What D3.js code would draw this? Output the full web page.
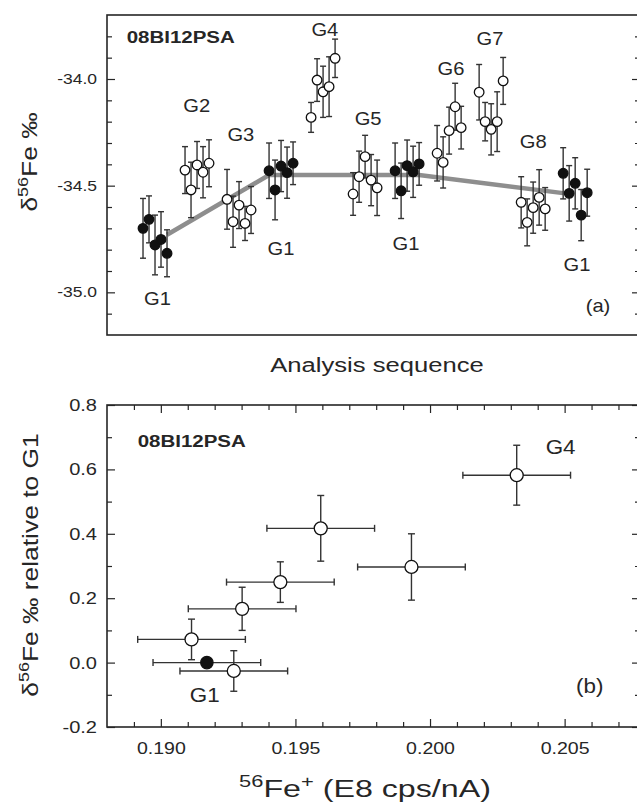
<!DOCTYPE html>
<html>
<head>
<meta charset="utf-8">
<script src="https://cdn.jsdelivr.net/npm/d3@7"></script>
<style>
    body { margin: 0; background: #fff; }
    svg { display: block; }
</style>
</head>
<body>
<div id="chart"></div>
<script>
// ---- panel (a): delta56Fe along the analysis sequence ----
const groupNames = ['G1', 'G2', 'G3', 'G1', 'G4', 'G5', 'G1', 'G6', 'G7', 'G8', 'G1'];
const groupFilled = [true, false, false, true, false, false, true, false, false, false, true];
const groupSeq = [
    [1, 2, 3, 4, 5], [8, 9, 10, 11, 12], [15, 16, 17, 18, 19], [22, 23, 24, 25, 26],
    [29, 30, 31, 32, 33], [36, 37, 38, 39, 40], [43, 44, 45, 46, 47], [50, 51, 52, 53, 54],
    [57, 58, 59, 60, 61], [64, 65, 66, 67, 68], [71, 72, 73, 74, 75]
];
const groupValues = [
    [-34.700, -34.658, -34.778, -34.752, -34.817],
    [-34.427, -34.520, -34.403, -34.437, -34.395],
    [-34.564, -34.669, -34.591, -34.677, -34.614],
    [-34.430, -34.520, -34.408, -34.439, -34.395],
    [-34.180, -34.005, -34.060, -34.036, -33.903],
    [-34.539, -34.458, -34.364, -34.474, -34.510],
    [-34.430, -34.524, -34.406, -34.435, -34.398],
    [-34.348, -34.391, -34.242, -34.130, -34.228],
    [-34.062, -34.200, -34.236, -34.200, -34.009],
    [-34.578, -34.672, -34.603, -34.555, -34.609],
    [-34.442, -34.536, -34.489, -34.638, -34.533]
];
const groupErrors = [
    [0.14, 0.11, 0.14, 0.13, 0.11],
    [0.11, 0.13, 0.11, 0.12, 0.11],
    [0.14, 0.12, 0.11, 0.08, 0.11],
    [0.13, 0.14, 0.12, 0.12, 0.10],
    [0.07, 0.10, 0.12, 0.14, 0.09],
    [0.10, 0.12, 0.10, 0.12, 0.13],
    [0.13, 0.13, 0.12, 0.12, 0.10],
    [0.13, 0.12, 0.11, 0.11, 0.10],
    [0.13, 0.09, 0.12, 0.14, 0.11],
    [0.12, 0.11, 0.12, 0.13, 0.10],
    [0.12, 0.13, 0.12, 0.12, 0.11]
];
// G1 block means joined by the grey line
const g1LineSeq = [5, 22, 47, 71];
const g1LineValues = [-34.73, -34.45, -34.45, -34.535];

const seqDomain = [-5, 83.8];
const deltaDomainA = [-35.2, -33.7];
const majorTicksA = [-35.0, -34.5, -34.0];
const minorTicksA = [-35.1, -34.9, -34.8, -34.7, -34.6, -34.4, -34.3, -34.2, -34.1, -33.9, -33.8];

const labelTextA = ['G1', 'G2', 'G3', 'G1', 'G4', 'G5', 'G1', 'G6', 'G7', 'G8', 'G1', '(a)'];
const labelSeqA = [3.4, 9.95, 17.3, 24, 31.3, 38.5, 44.8, 52.3, 58.8, 66, 73.3, 76.8];
const labelValueA = [-35.06, -34.155, -34.29, -34.825, -33.80, -34.215, -34.80, -33.98, -33.84, -34.325, -34.90, -35.09];

// ---- panel (b): delta56Fe relative to G1 vs 56Fe+ intensity ----
const fluxX = [0.19114, 0.19271, 0.19302, 0.19444, 0.19594, 0.19931, 0.20322];
const fluxDelta = [0.072, -0.026, 0.167, 0.250, 0.417, 0.297, 0.582];
const fluxXErr = [0.0020, 0.0020, 0.0020, 0.0020, 0.0020, 0.0020, 0.0020];
const fluxDeltaErr = [0.063, 0.063, 0.067, 0.063, 0.102, 0.103, 0.093];
const g1FluxX = [0.19171];
const g1FluxDelta = [0.0];
const g1FluxXErr = [0.0020];

const fluxDomain = [0.188, 0.2078];
const deltaDomainB = [-0.2, 0.8];
const majorTicksBX = [0.190, 0.195, 0.200, 0.205];
const minorTicksBX = [0.189, 0.191, 0.192, 0.193, 0.194, 0.196, 0.197, 0.198, 0.199, 0.201, 0.202, 0.203, 0.204, 0.206, 0.207];
const majorTicksBY = [-0.2, 0.0, 0.2, 0.4, 0.6, 0.8];
const minorTicksBY = [-0.1, 0.1, 0.3, 0.5, 0.7];

const labelTextB = ['G4', 'G1', '(b)'];
const labelXB = [0.20485, 0.19163, 0.20593];
const labelYB = [0.648, -0.123, -0.095];

const sampleName = '08BI12PSA';

// ---- drawing ----
const FONT = '"Liberation Sans", Arial, Helvetica, sans-serif';
const INK = '#262626';
const W = 637, H = 803;
const LEFT = 107, RIGHT = 640;

const svg = d3.select('#chart').append('svg')
    .attr('width', W)
    .attr('height', H)
    .style('background', '#fff');

// the figure lettering is wide, so every label is stretched sideways
function stretchLabels(sel, sx) {
    sel.each(function() {
        const t = d3.select(this);
        const x = +t.attr('x') || 0;
        const y = +t.attr('y') || 0;
        t.attr('x', null).attr('y', null)
            .attr('transform', `translate(${x},${y}) scale(${sx},1)`);
    });
}

function addLabel(parent, x, y, parts, o) {
    const t = parent.append('text')
        .attr('transform', `translate(${x},${y})` + (o.rotate ? ` rotate(${o.rotate})` : '') + ` scale(${o.sx || 1},1)`)
        .attr('text-anchor', o.anchor || 'middle')
        .attr('font-family', FONT)
        .attr('font-size', o.size)
        .attr('font-weight', o.bold ? 'bold' : 'normal')
        .attr('fill', INK);
    let raised = false;
    (typeof parts === 'string' ? [parts] : parts).forEach(p => {
        const sup = typeof p === 'object';
        const s = t.append('tspan').text(sup ? p.sup : p);
        if (sup) {
            s.attr('font-size', o.size * 0.68).attr('dy', raised ? 0 : -o.size * 0.42);
        } else if (raised) {
            s.attr('dy', o.size * 0.42);
        }
        raised = sup;
    });
    return t;
}

function drawAxis(g, axis, tx, ty, fontSize, sx) {
    const a = g.append('g')
        .attr('transform', `translate(${tx},${ty})`)
        .call(axis)
        .attr('font-family', FONT)
        .attr('font-size', fontSize);
    a.select('.domain').remove();
    a.selectAll('line').attr('stroke', INK).attr('stroke-width', 1.2);
    a.selectAll('text').attr('fill', INK);
    stretchLabels(a.selectAll('text'), sx);
    return a;
}

function errorBarsY(g, xs, ys, errs, x, y, cap) {
    const d = xs.map((v, i) => ({ x: v, y: ys[i], e: errs[i] })).filter(p => p.e > 0);
    const bars = g.append('g').attr('stroke', '#333').attr('stroke-width', 1.4).attr('fill', 'none');
    bars.selectAll('.v').data(d).enter().append('line')
        .attr('x1', p => x(p.x)).attr('x2', p => x(p.x))
        .attr('y1', p => y(p.y - p.e)).attr('y2', p => y(p.y + p.e));
    [-1, 1].forEach(s => {
        bars.selectAll('.c' + s).data(d).enter().append('line')
            .attr('x1', p => x(p.x) - cap).attr('x2', p => x(p.x) + cap)
            .attr('y1', p => y(p.y + s * p.e)).attr('y2', p => y(p.y + s * p.e));
    });
}

function errorBarsX(g, xs, ys, errs, x, y, cap) {
    const d = xs.map((v, i) => ({ x: v, y: ys[i], e: errs[i] }));
    const bars = g.append('g').attr('stroke', '#333').attr('stroke-width', 1.4).attr('fill', 'none');
    bars.selectAll('.h').data(d).enter().append('line')
        .attr('x1', p => x(p.x - p.e)).attr('x2', p => x(p.x + p.e))
        .attr('y1', p => y(p.y)).attr('y2', p => y(p.y));
    [-1, 1].forEach(s => {
        bars.selectAll('.c' + s).data(d).enter().append('line')
            .attr('x1', p => x(p.x + s * p.e)).attr('x2', p => x(p.x + s * p.e))
            .attr('y1', p => y(p.y) - cap).attr('y2', p => y(p.y) + cap);
    });
}

// ---------- panel (a) ----------
const topA = 15, bottomA = 335;
const xA = d3.scaleLinear().domain(seqDomain).range([LEFT, RIGHT]);
const yA = d3.scaleLinear().domain(deltaDomainA).range([bottomA, topA]);
const gA = svg.append('g');

drawAxis(gA, d3.axisLeft(yA).tickValues(majorTicksA).tickSize(-8).tickPadding(10).tickFormat(d => d.toFixed(1)), LEFT, 0, 14, 1.25);
drawAxis(gA, d3.axisLeft(yA).tickValues(minorTicksA).tickSize(-5).tickFormat(''), LEFT, 0, 14, 1);
drawAxis(gA, d3.axisRight(yA).tickValues(majorTicksA).tickSize(-8).tickFormat(''), RIGHT, 0, 14, 1);
drawAxis(gA, d3.axisRight(yA).tickValues(minorTicksA).tickSize(-5).tickFormat(''), RIGHT, 0, 14, 1);

gA.append('path')
    .datum(g1LineSeq.map((s, i) => [s, g1LineValues[i]]))
    .attr('fill', 'none')
    .attr('stroke', '#8e8e8e')
    .attr('stroke-width', 4.5)
    .attr('d', d3.line().x(d => xA(d[0])).y(d => yA(d[1])));

groupSeq.forEach((seq, gi) => {
    errorBarsY(gA, seq, groupValues[gi], groupErrors[gi], xA, yA, 3);
});
groupSeq.forEach((seq, gi) => {
    gA.append('g').selectAll('circle')
        .data(seq.map((s, i) => ({ s: s, v: groupValues[gi][i] })))
        .enter()
        .append('circle')
        .attr('cx', d => xA(d.s))
        .attr('cy', d => yA(d.v))
        .attr('r', 4.8)
        .attr('fill', groupFilled[gi] ? '#111' : '#fff')
        .attr('stroke', '#111')
        .attr('stroke-width', 1.3);
});

gA.append('rect')
    .attr('x', LEFT).attr('y', topA)
    .attr('width', RIGHT - LEFT).attr('height', bottomA - topA)
    .attr('fill', 'none').attr('stroke', INK).attr('stroke-width', 1.6);

labelTextA.forEach((t, i) => {
    addLabel(gA, xA(labelSeqA[i]), yA(labelValueA[i]), t, { size: 18, sx: 1.12 });
});
addLabel(gA, xA(-1.72), yA(-33.83), sampleName, { size: 16, sx: 1.28, bold: true, anchor: 'start' });

addLabel(svg, 377, 372, 'Analysis sequence', { size: 21, sx: 1.22 });
addLabel(svg, 37, 162, ['δ', { sup: '56' }, 'Fe ‰'], { size: 22, sx: 1.2, rotate: -90 });

// ---------- panel (b) ----------
const topB = 405, bottomB = 727;
const xB = d3.scaleLinear().domain(fluxDomain).range([LEFT, RIGHT]);
const yB = d3.scaleLinear().domain(deltaDomainB).range([bottomB, topB]);
const gB = svg.append('g');

const fmtY = d => d.toFixed(1);
drawAxis(gB, d3.axisLeft(yB).tickValues(majorTicksBY).tickSize(-8).tickPadding(10).tickFormat(fmtY), LEFT, 0, 17, 1.18);
drawAxis(gB, d3.axisLeft(yB).tickValues(minorTicksBY).tickSize(-5).tickFormat(''), LEFT, 0, 17, 1);
drawAxis(gB, d3.axisRight(yB).tickValues(majorTicksBY).tickSize(-8).tickFormat(''), RIGHT, 0, 17, 1);
drawAxis(gB, d3.axisRight(yB).tickValues(minorTicksBY).tickSize(-5).tickFormat(''), RIGHT, 0, 17, 1);
drawAxis(gB, d3.axisBottom(xB).tickValues(majorTicksBX).tickSize(-8).tickPadding(15).tickFormat(d => d.toFixed(3)), 0, bottomB, 17, 1.15);
drawAxis(gB, d3.axisBottom(xB).tickValues(minorTicksBX).tickSize(-5).tickFormat(''), 0, bottomB, 17, 1);
drawAxis(gB, d3.axisTop(xB).tickValues(majorTicksBX).tickSize(-8).tickFormat(''), 0, topB, 17, 1);
drawAxis(gB, d3.axisTop(xB).tickValues(minorTicksBX).tickSize(-5).tickFormat(''), 0, topB, 17, 1);

errorBarsX(gB, g1FluxX, g1FluxDelta, g1FluxXErr, xB, yB, 3.5);
errorBarsX(gB, fluxX, fluxDelta, fluxXErr, xB, yB, 3.5);
errorBarsY(gB, fluxX, fluxDelta, fluxDeltaErr, xB, yB, 3.5);

gB.append('g').selectAll('circle')
    .data(g1FluxX.map((v, i) => ({ x: v, y: g1FluxDelta[i] })))
    .enter().append('circle')
    .attr('cx', d => xB(d.x)).attr('cy', d => yB(d.y))
    .attr('r', 6.2).attr('fill', '#111').attr('stroke', '#111').attr('stroke-width', 1.3);
gB.append('g').selectAll('circle')
    .data(fluxX.map((v, i) => ({ x: v, y: fluxDelta[i] })))
    .enter().append('circle')
    .attr('cx', d => xB(d.x)).attr('cy', d => yB(d.y))
    .attr('r', 6.5).attr('fill', '#fff').attr('stroke', '#111').attr('stroke-width', 1.3);

gB.append('rect')
    .attr('x', LEFT).attr('y', topB)
    .attr('width', RIGHT - LEFT).attr('height', bottomB - topB)
    .attr('fill', 'none').attr('stroke', INK).attr('stroke-width', 1.6);

labelTextB.forEach((t, i) => {
    addLabel(gB, xB(labelXB[i]), yB(labelYB[i]), t, { size: 20, sx: 1.12 });
});
addLabel(gB, xB(0.18914), yB(0.669), sampleName, { size: 16, sx: 1.28, bold: true, anchor: 'start' });

addLabel(svg, 365, 797, [{ sup: '56' }, 'Fe', { sup: '+' }, ' (E8 cps/nA)'], { size: 23, sx: 1.4 });
addLabel(svg, 38, 565, ['δ', { sup: '56' }, 'Fe ‰ relative to G1'], { size: 22, sx: 1.2, rotate: -90 });
</script>
</body>
</html>
